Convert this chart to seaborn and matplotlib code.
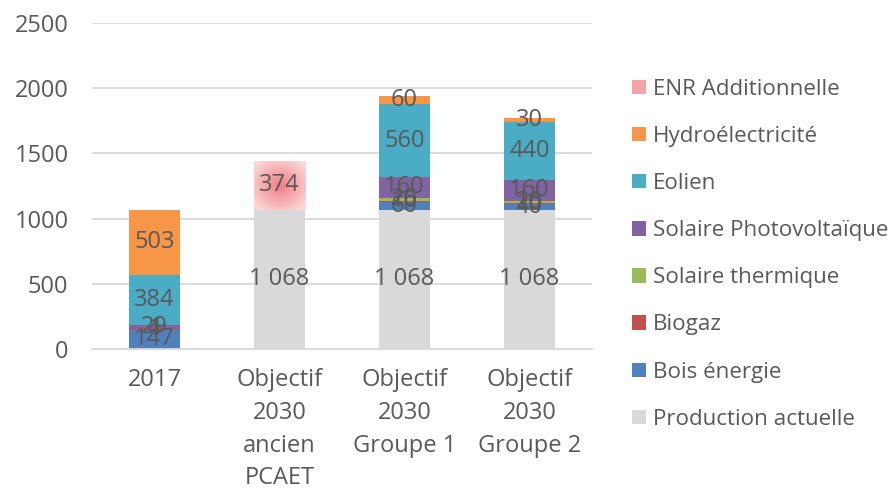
import numpy as np
import matplotlib
matplotlib.use("Agg")
import matplotlib.pyplot as plt
import seaborn as sns
from matplotlib.patches import Patch

# ---------------------------------------------------------------------
# Data (GWh)
# ---------------------------------------------------------------------
categories = ["2017", "Objectif\n2030\nancien\nPCAET",
              "Objectif\n2030\nGroupe 1", "Objectif\n2030\nGroupe 2"]

# stacked from bottom to top
series_names = ["Production actuelle", "Bois énergie", "Biogaz",
                "Solaire thermique", "Solaire Photovoltaïque", "Eolien",
                "Hydroélectricité", "ENR Additionnelle"]
production_actuelle = [0, 1068, 1068, 1068]
bois_energie = [147, 0, 60, 40]
biogaz = [4, 0, 10, 10]
solaire_thermique = [1, 0, 20, 20]
solaire_pv = [29, 0, 160, 160]
eolien = [384, 0, 560, 440]
hydro = [503, 0, 60, 30]
enr_additionnelle = [0, 374, 0, 0]

series_values = [production_actuelle, bois_energie, biogaz, solaire_thermique,
                 solaire_pv, eolien, hydro, enr_additionnelle]
series_colors = ["#D9D9D9", "#4F81BD", "#C0504D", "#9BBB59",
                 "#8064A2", "#4BACC6", "#F79646", "#F4A3A6"]

yticks = [0, 500, 1000, 1500, 2000, 2500]

TXT = "#595959"
plt.rcParams["font.family"] = ["Open Sans", "DejaVu Sans"]

fig = plt.figure(figsize=(8.94, 4.88), dpi=100)
ax = fig.add_axes([0.103, 0.285, 0.559, 0.668])

vals = np.array(series_values, dtype=float)
cum = np.cumsum(vals, axis=0)
BAR_W = 0.41

# draw cumulative totals from the top layer down so each layer shows its segment
for i in range(len(series_names) - 1, -1, -1):
    sns.barplot(x=categories, y=cum[i], color=series_colors[i], width=BAR_W,
                saturation=1, errorbar=None, ax=ax, linewidth=0, zorder=2)
    if series_names[i] == "ENR Additionnelle":
        # radial pink gradient fill for the additional ENR segment
        n = 120
        yy, xx = np.mgrid[-1:1:n * 1j, -1:1:n * 1j]
        t = np.clip(np.sqrt(xx ** 2 + yy ** 2) / 1.25, 0, 1)[..., None]
        c0 = np.array([241, 125, 131]) / 255
        c1 = np.array([252, 216, 216]) / 255
        img = c0 * (1 - t) + c1 * t
        for j, v in enumerate(vals[i]):
            if v > 0:
                ax.imshow(img, extent=[j - BAR_W / 2, j + BAR_W / 2,
                                       cum[i - 1][j], cum[i][j]],
                          aspect="auto", zorder=2, interpolation="bilinear")

# data labels
for i in range(len(series_names)):
    for j, v in enumerate(vals[i]):
        if v > 0:
            lab = f"{int(v):,}".replace(",", " ")
            ax.text(j, cum[i][j] - v / 2, lab, ha="center", va="center",
                    fontsize=17, color=TXT, zorder=5)

ax.set_xlim(-0.5, len(categories) - 0.5)
ax.set_ylim(0, 2500)
ax.set_yticks(yticks)
ax.set_yticklabels([str(t) for t in yticks])
ax.yaxis.grid(True, color="#D9D9D9", linewidth=1.3)
ax.set_axisbelow(True)
for s in ["top", "right", "left"]:
    ax.spines[s].set_visible(False)
ax.spines["bottom"].set_color("#D9D9D9")
ax.spines["bottom"].set_linewidth(1.3)
ax.tick_params(axis="both", length=0, colors=TXT, labelsize=17)
ax.tick_params(axis="y", pad=17)
ax.tick_params(axis="x", pad=14)
for lab in ax.get_xticklabels():
    lab.set_linespacing(1.48)
    lab.set_verticalalignment("top")
ax.set_xlabel("")
ax.set_ylabel("")

handles = [Patch(facecolor=series_colors[i], edgecolor="none", label=series_names[i])
           for i in range(len(series_names) - 1, -1, -1)]
leg = fig.legend(handles=handles, loc="center left",
                 bbox_to_anchor=(0.707, 0.479), frameon=False,
                 fontsize=16.1, handlelength=0.62, handleheight=0.62,
                 handletextpad=0.3, labelspacing=1.17, borderpad=0,
                 borderaxespad=0)
for t in leg.get_texts():
    t.set_color(TXT)

fig.savefig("out.png", dpi=100)
